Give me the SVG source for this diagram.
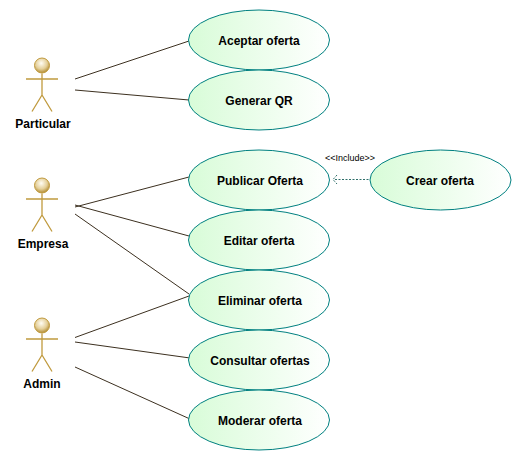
<svg xmlns="http://www.w3.org/2000/svg" width="521" height="461" viewBox="0 0 521 461">
<style>
text{font-family:"Liberation Sans",Arial,sans-serif;font-size:12px;font-weight:bold;fill:#000;text-anchor:middle}
.uc{fill:url(#g);stroke:#008080;stroke-width:1}
.a{fill:none;stroke:#c09a3e;stroke-width:1.3}
.c{stroke:#3c3020;stroke-width:1;fill:none}
.d{stroke:#2f6f6a;stroke-width:1;fill:none;stroke-dasharray:2 1.500}
</style>
<defs>
<linearGradient id="g" x1="0" x2="1" y1="0" y2="0"><stop offset="0" stop-color="#d8fcd8"/><stop offset="1" stop-color="#fff"/></linearGradient>
<radialGradient id="h" cx="0.45" cy="0.35" r="0.65"><stop offset="0" stop-color="#fffdf4"/><stop offset="0.6" stop-color="#e4cf98"/><stop offset="1" stop-color="#b08a30"/></radialGradient>
<g id="actor">
<circle cx="0" cy="0" r="7.500" fill="url(#h)" stroke="#c09a3e"/>
<path class="a" d="M-16 13.500H16M0 8V29.500M0 29.500L-10 46M0 29.500L10 46"/>
</g>
</defs>
<rect width="521" height="461" fill="#fff"/>
<g id="connectors">
<path class="c" d="M75 79L189 41"/>
<path class="c" d="M75 90L189 100"/>
<path class="c" d="M75 207L189 177"/>
<path class="c" d="M75 205L189 236"/>
<path class="c" d="M75 214L189 294"/>
<path class="c" d="M75 337.500L189 296"/>
<path class="c" d="M75 342L190 358"/>
<path class="c" d="M75 367L190 419"/>
<path class="d" d="M335 179.500H370"/>
<path class="d" d="M337 175L333 179.500L337 184"/>
<text x="350" y="161" style="font-size:9px;font-weight:normal">&lt;&lt;Include&gt;&gt;</text>
</g>
<g id="particular"><use href="#actor" x="42" y="65.500"/><text x="43" y="128">Particular</text></g>
<g id="empresa"><use href="#actor" x="42" y="185.500"/><text x="43" y="248">Empresa</text></g>
<g id="admin"><use href="#actor" x="42" y="325.500"/><text x="42" y="388">Admin</text></g>
<g id="aceptar"><ellipse class="uc" cx="259" cy="40" rx="70.500" ry="30"/><text x="259" y="45">Aceptar oferta</text></g>
<g id="generar"><ellipse class="uc" cx="259" cy="100" rx="70.500" ry="30"/><text x="259" y="105">Generar QR</text></g>
<g id="publicar"><ellipse class="uc" cx="259" cy="180" rx="70.500" ry="30"/><text x="260" y="185">Publicar Oferta</text></g>
<g id="editar"><ellipse class="uc" cx="259" cy="240" rx="70.500" ry="30"/><text x="259" y="245">Editar oferta</text></g>
<g id="eliminar"><ellipse class="uc" cx="259" cy="300" rx="70.500" ry="30"/><text x="260" y="305">Eliminar oferta</text></g>
<g id="consultar"><ellipse class="uc" cx="259" cy="360" rx="70.500" ry="30"/><text x="260" y="365">Consultar ofertas</text></g>
<g id="moderar"><ellipse class="uc" cx="259" cy="420" rx="70.500" ry="30"/><text x="260" y="425">Moderar oferta</text></g>
<g id="crear"><ellipse class="uc" cx="440.500" cy="180" rx="70.500" ry="30"/><text x="440" y="185">Crear oferta</text></g>
</svg>
